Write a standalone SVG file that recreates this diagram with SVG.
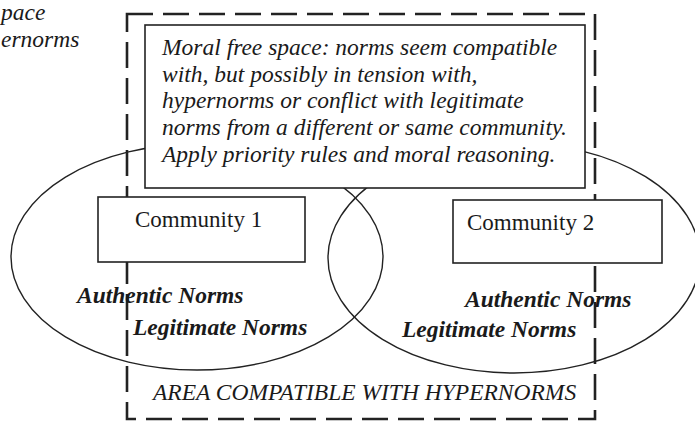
<svg xmlns="http://www.w3.org/2000/svg" width="695" height="423" viewBox="0 0 695 423">
<style>
text{font-family:"Liberation Serif","Times New Roman",serif;fill:#1a1a1a}
.it{font-style:italic;font-size:23.5px}
.bi{font-style:italic;font-weight:bold;font-size:23.5px}
.reg{font-size:23px}
.box{fill:#fff;stroke:#222;stroke-width:1.6}
.ell{fill:none;stroke:#222;stroke-width:1.4}
.dash{fill:none;stroke:#222;stroke-width:2.6;stroke-dasharray:26 10}
</style>
<rect width="695" height="423" fill="#fff"/>
<g id="cut-labels">
<text class="it" x="1" y="20">pace</text>
<text class="it" x="1" y="47">ernorms</text>
</g>
<g id="hypernorm-area">
<rect class="dash" x="127" y="14" width="468" height="405"/>
<text class="it" x="153" y="400">AREA COMPATIBLE WITH HYPERNORMS</text>
</g>
<g id="ellipse-1"><ellipse class="ell" cx="197" cy="257" rx="186" ry="113"/></g>
<g id="ellipse-2"><ellipse class="ell" cx="514" cy="258" rx="186" ry="115"/></g>
<g id="moral-free-space">
<rect class="box" x="145" y="25" width="440" height="163"/>
<text class="it" x="162" y="55">Moral free space: norms seem compatible</text>
<text class="it" x="162" y="82">with, but possibly in tension with,</text>
<text class="it" x="162" y="108">hypernorms or conflict with legitimate</text>
<text class="it" x="162" y="135">norms from a different or same community.</text>
<text class="it" x="162" y="162">Apply priority rules and moral reasoning.</text>
</g>
<g id="community-1">
<rect class="box" x="98" y="197" width="207" height="65"/>
<text class="reg" x="135" y="227">Community 1</text>
<text class="bi" x="77" y="303">Authentic Norms</text>
<text class="bi" x="133" y="335">Legitimate Norms</text>
</g>
<g id="community-2">
<rect class="box" x="453" y="200" width="209" height="63"/>
<text class="reg" x="467" y="230">Community 2</text>
<text class="bi" x="465" y="307">Authentic Norms</text>
<text class="bi" x="402" y="337">Legitimate Norms</text>
</g>
<g id="connectors"/>
</svg>
